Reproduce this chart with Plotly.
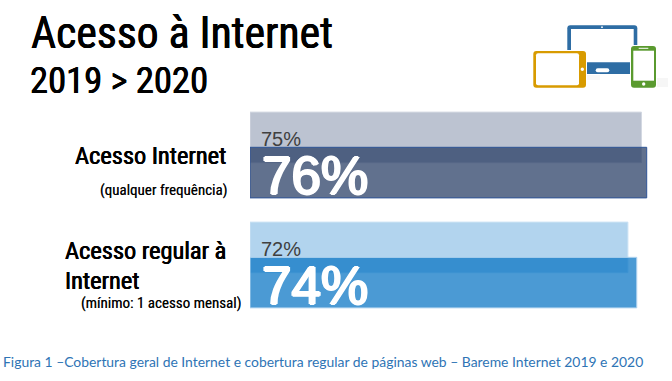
import plotly.graph_objects as go

# --- data ---
categories = [0, 1]
values_2019 = [75.0, 72.4]
values_2020 = [76.0, 74.1]
labels_2019 = ["75%", "72%"]
labels_2020 = ["76%", "74%"]
colors_2019 = ["#BCC3D1", "#B2D4EE"]
colors_2020 = ["rgba(36,58,99,0.72)", "rgba(5,115,195,0.72)"]
edges_2019 = ["#D3D8E2", "#CBE2F4"]
edges_2020 = ["#2F5597", "#B5D6F0"]
title_main = "Acesso à Internet"
title_sub = "2019 > 2020"
caption = "Figura 1 –Cobertura geral de Internet e cobertura regular de páginas web – Bareme Internet 2019 e 2020"

W, H = 672, 381
L, R, T, B = 250, 650, 100, 320
NARROW = "Roboto Condensed, sans-serif"
HEAVY = "0.35px 0 0 #000000, -0.35px 0 0 #000000"
LIGHT = "0.15px 0 0 rgba(0,0,0,0.4), -0.15px 0 0 rgba(0,0,0,0.4)"
WHITE_HEAVY = "1.2px 0 0 #FFFFFF, -1.2px 0 0 #FFFFFF, 0 0.8px 0 #FFFFFF, 0 -0.8px 0 #FFFFFF"


def fx(p):
    return (p - L) / (R - L)


def fy(p):
    return (B - p) / (B - T)


fig = go.Figure()
fig.add_bar(y=categories, x=values_2019, orientation="h", width=0.46, offset=-0.39,
            marker=dict(color=colors_2019, line=dict(color=edges_2019, width=1)),
            hoverinfo="skip", showlegend=False)
fig.add_bar(y=categories, x=values_2020, orientation="h", width=0.46, offset=-0.07,
            marker=dict(color=colors_2020, line=dict(color=edges_2020, width=1)),
            hoverinfo="skip", showlegend=False)


def text(s, left, cy, size, color="#000000", family=NARROW, shadow=HEAVY):
    fig.add_annotation(text=s, xref="paper", yref="paper", x=fx(left), y=fy(cy),
                       xanchor="left", yanchor="middle", showarrow=False,
                       align="left", borderpad=0,
                       font=dict(size=size, color=color, family=family, shadow=shadow))


text(title_main, 30, 33, 43.7)
text(title_sub, 29, 80, 36.6)
text("Acesso Internet", 74, 155, 24.4)
text("(qualquer frequência)", 99, 190, 15, shadow=LIGHT)
text("Acesso regular à", 64, 250, 24.4)
text("Internet", 64, 280, 24.4)
text("(mínimo: 1 acesso mensal)", 80, 303, 15, shadow=LIGHT)
text(caption, 2, 361, 13.9, "#2E74B5", "Lato, sans-serif", "none")

ARIAL = "Liberation Sans, Arial, sans-serif"
for i, (a, b) in enumerate(zip(labels_2019, labels_2020)):
    cy = 155 + 110 * categories[i]
    text(a, 260, cy - 16, 20, "#404040", ARIAL, "none")
    text(b, 261, cy + 20, 53, "#FFFFFF", ARIAL, WHITE_HEAVY)


def rect(x0, y0, x1, y1, color):
    fig.add_shape(type="rect", xref="paper", yref="paper", x0=fx(x0), x1=fx(x1),
                  y0=fy(y0), y1=fy(y1), fillcolor=color, line=dict(width=0))


def rrect(x0, y0, x1, y1, r, color):
    a, b, c, d = fx(x0), fx(x1), fy(y0), fy(y1)
    rx, ry = r / (R - L), r / (B - T)
    path = (f"M {a+rx} {c} L {b-rx} {c} Q {b} {c} {b} {c-ry} L {b} {d+ry} Q {b} {d} {b-rx} {d} "
            f"L {a+rx} {d} Q {a} {d} {a} {d+ry} L {a} {c-ry} Q {a} {c} {a+rx} {c} Z")
    fig.add_shape(type="path", xref="paper", yref="paper", path=path,
                  fillcolor=color, line=dict(width=0))


def dot(cx, cy, r, color="#FFFFFF"):
    fig.add_shape(type="circle", xref="paper", yref="paper", x0=fx(cx - r), x1=fx(cx + r),
                  y0=fy(cy - r), y1=fy(cy + r), fillcolor=color, line=dict(width=0))


# device icon
rect(586, 75, 600, 80, "rgba(0,0,0,0.03)")
rect(657, 78, 668, 87, "rgba(0,0,0,0.035)")
rrect(567.3, 25.3, 637.3, 74, 3, "#2E6DA4")
rect(571, 29, 633.7, 62.3, "#FFFFFF")
dot(602, 27.2, 0.9)
rrect(595.7, 68.3, 609.3, 72.3, 2, "#FFFFFF")
rrect(532.3, 50, 587, 88.7, 3, "#FFFFFF")
rrect(533.3, 51, 586, 87.7, 3, "#D89B00")
rrect(536, 53.3, 579, 85.3, 2, "#FFFFFF")
dot(582.3, 69.3, 1.7)
rrect(630, 45, 657, 88.7, 3, "#FFFFFF")
rrect(631, 46, 656, 87.7, 3, "#5A9A2F")
rect(633.3, 50.7, 654, 80.7, "#FFFFFF")
rect(638.7, 47.8, 648.3, 48.8, "#FFFFFF")
dot(643.7, 84, 1.7)

fig.update_layout(
    width=W, height=H, autosize=False, barmode="overlay",
    margin=dict(l=L, r=W - R, t=T, b=H - B, pad=0),
    paper_bgcolor="#FFFFFF", plot_bgcolor="#FFFFFF", showlegend=False,
    xaxis=dict(range=[0, 76.63], visible=False),
    yaxis=dict(range=[1.5, -0.5], visible=False),
)
fig.write_html("out.html", config={"displayModeBar": False},
               post_script="document.body.style.margin='0'")
